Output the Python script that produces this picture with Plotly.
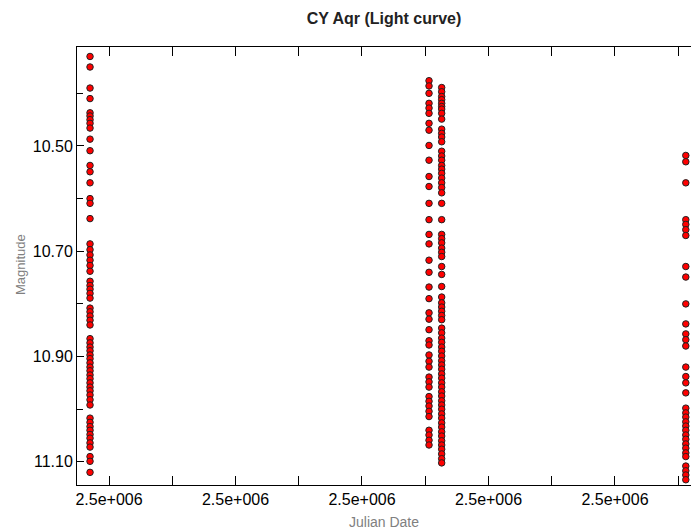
import plotly.graph_objects as go

# ---- data -------------------------------------------------------------
title_text = "CY Aqr (Light curve)"
x_title = "Julian Date"
y_title = "Magnitude"

# observing nights (Julian Date)
jd_nights = [2453985.0, 2454253.0, 2454263.0, 2454456.0]

mag_night1 = [10.330, 10.350, 10.390, 10.410, 10.437, 10.443, 10.450, 10.457, 10.466,
              10.487, 10.509, 10.537, 10.549, 10.570, 10.600, 10.609, 10.638, 10.686,
              10.697, 10.707, 10.717, 10.727, 10.738, 10.757, 10.765, 10.772, 10.780,
              10.789, 10.808, 10.815, 10.823, 10.831, 10.840, 10.866, 10.874, 10.882,
              10.889, 10.897, 10.904, 10.912, 10.920, 10.927, 10.935, 10.942, 10.950,
              10.958, 10.965, 10.973, 10.982, 10.992, 11.017, 11.025, 11.033, 11.040,
              11.048, 11.055, 11.064, 11.072, 11.090, 11.099, 11.120]

mag_night2 = [10.376, 10.386, 10.400, 10.419, 10.428, 10.438, 10.457, 10.470, 10.499,
              10.527, 10.558, 10.577, 10.609, 10.640, 10.668, 10.686, 10.717, 10.740,
              10.768, 10.790, 10.817, 10.829, 10.849, 10.870, 10.878, 10.897, 10.909,
              10.920, 10.939, 10.948, 10.958, 10.976, 10.985, 10.994, 11.004, 11.014,
              11.040, 11.049, 11.059, 11.068]

mag_night3 = [10.389, 10.397, 10.406, 10.412, 10.419, 10.425, 10.430, 10.438, 10.449,
              10.468, 10.476, 10.483, 10.492, 10.510, 10.519, 10.527, 10.537, 10.544,
              10.552, 10.561, 10.570, 10.579, 10.589, 10.609, 10.640, 10.668, 10.676,
              10.684, 10.694, 10.702, 10.710, 10.729, 10.744, 10.767, 10.787, 10.798,
              10.806, 10.814, 10.822, 10.830, 10.846, 10.855, 10.865, 10.873, 10.882,
              10.890, 10.899, 10.908, 10.916, 10.924, 10.933, 10.941, 10.950, 10.958,
              10.967, 10.975, 10.984, 10.992, 11.000, 11.009, 11.017, 11.026, 11.034,
              11.043, 11.051, 11.060, 11.068, 11.076, 11.085, 11.094, 11.102]

mag_night4 = [10.518, 10.530, 10.570, 10.640, 10.649, 10.659, 10.670, 10.729, 10.749,
              10.800, 10.838, 10.857, 10.868, 10.880, 10.920, 10.938, 10.950, 10.969,
              10.998, 11.007, 11.015, 11.024, 11.032, 11.040, 11.049, 11.057, 11.066,
              11.074, 11.083, 11.090, 11.108, 11.117, 11.125, 11.134]

x_major_ticks = [2454000, 2454100, 2454200, 2454300, 2454400]
x_minor_ticks = [2454050, 2454150, 2454250, 2454350, 2454450]
x_tick_labels = ["2.5e+006"] * len(x_major_ticks)

y_major_ticks = [10.50, 10.70, 10.90, 11.10]
y_minor_ticks = [10.40, 10.60, 10.80, 11.00]
y_tick_labels = ["10.50", "10.70", "10.90", "11.10"]

x_range = [2453974.7, 2454460.1]
y_range = [11.144, 10.312]

# ---- figure -----------------------------------------------------------
nights = [mag_night1, mag_night2, mag_night3, mag_night4]
xs, ys = [], []
for jd, mags in zip(jd_nights, nights):
    xs += [jd] * len(mags)
    ys += mags

fig = go.Figure()
fig.add_trace(go.Scatter(
    x=xs, y=ys, mode="markers",
    marker=dict(size=6.5, color="#ff0000", line=dict(width=1, color="#222222")),
    cliponaxis=False, showlegend=False,
))

font_family = "Liberation Sans, Arial, sans-serif"

fig.update_layout(
    width=691, height=532,
    margin=dict(l=77, r=0, t=47, b=47),
    paper_bgcolor="white", plot_bgcolor="white",
    font=dict(family=font_family, color="#000000"),
    title=dict(text="<b>" + title_text + "</b>", x=384 / 691, xanchor="center",
               y=1 - 18 / 532, yanchor="middle", xref="container", yref="container",
               font=dict(size=16, color="#222222", family=font_family)),
)

fig.update_xaxes(
    range=x_range, showgrid=False, zeroline=False,
    showline=True, linecolor="#000000", linewidth=1, mirror="ticks",
    tickmode="array", tickvals=x_major_ticks, ticktext=x_tick_labels,
    ticks="inside", ticklen=9, tickcolor="#000000", tickwidth=1,
    tickfont=dict(size=16, color="#000000"),
    minor=dict(tickmode="array", tickvals=x_minor_ticks, ticks="inside",
               ticklen=9, tickcolor="#000000", tickwidth=1, showgrid=False),
)
fig.update_yaxes(
    range=y_range, showgrid=False, zeroline=False,
    showline=True, linecolor="#000000", linewidth=1, mirror=False,
    tickmode="array", tickvals=y_major_ticks, ticktext=y_tick_labels,
    ticks="inside", ticklen=7, tickcolor="#000000", tickwidth=1,
    tickfont=dict(size=16, color="#000000"),
    minor=dict(tickmode="array", tickvals=y_minor_ticks, ticks="inside",
               ticklen=6, tickcolor="#000000", tickwidth=1, showgrid=False),
)

fig.add_annotation(text=x_title, xref="paper", yref="paper",
                   x=(384 - 77) / 614, y=-(522 - 485) / 438, yanchor="middle",
                   showarrow=False, font=dict(size=14, color="#808080"))
fig.add_annotation(text=y_title, xref="paper", yref="paper", textangle=-90,
                   x=-(77 - 20) / 614, xanchor="center", y=(485 - 265) / 438,
                   yanchor="middle", showarrow=False,
                   font=dict(size=13, color="#808080"))

fig.write_html("out.html")
